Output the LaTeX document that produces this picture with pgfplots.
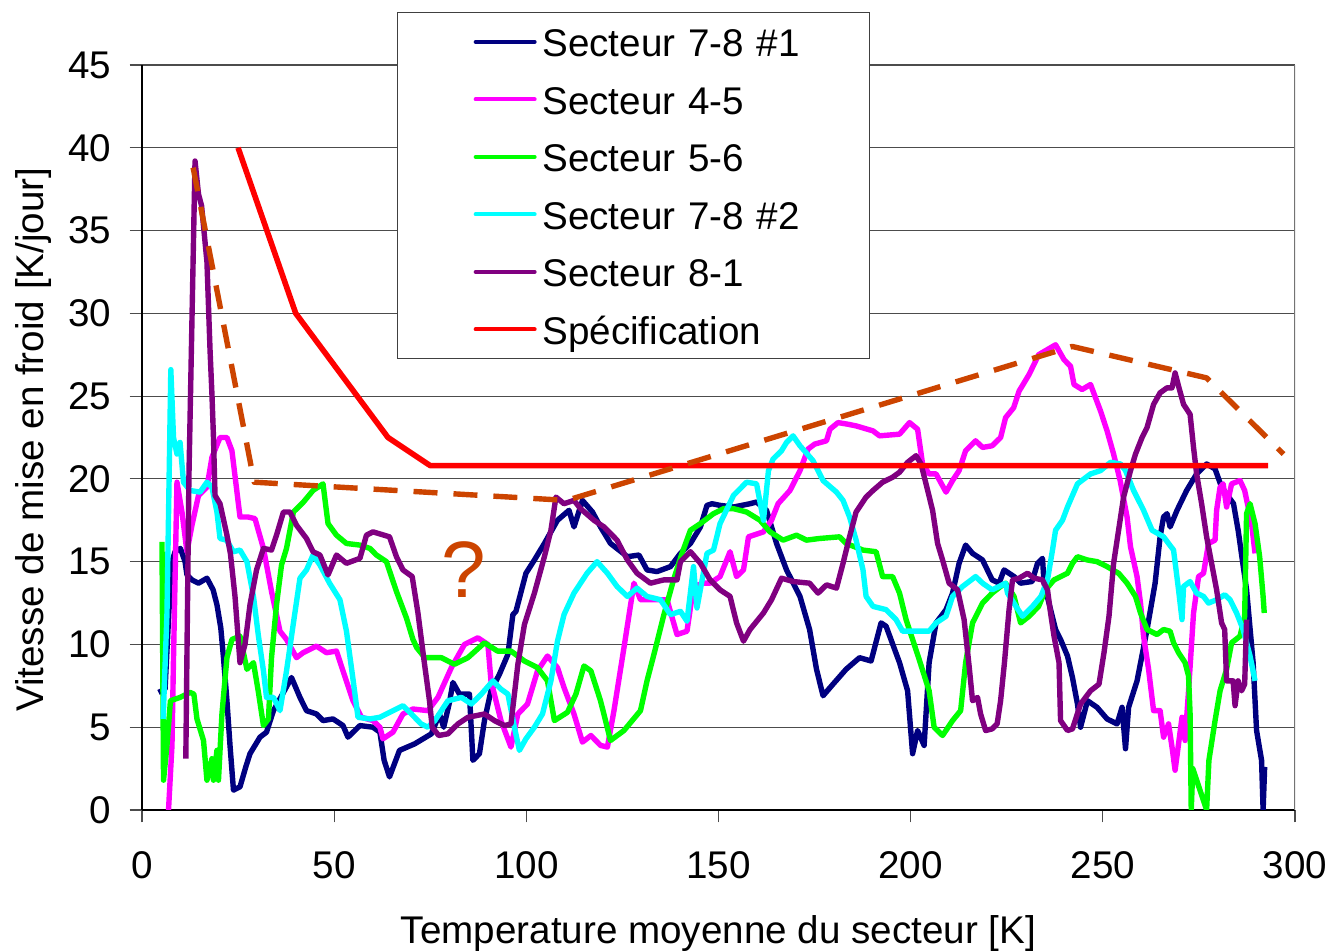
\documentclass[border=0pt]{standalone}
\usepackage{fontspec}
\setmainfont{Liberation Sans}
\usepackage{pgfplots}
\pgfplotsset{compat=1.18}

\definecolor{s78a}{RGB}{0,0,128}
\definecolor{s45}{RGB}{255,0,255}
\definecolor{s56}{RGB}{0,255,0}
\definecolor{s78b}{RGB}{0,255,255}
\definecolor{s81}{RGB}{128,0,128}
\definecolor{spec}{RGB}{255,0,0}
\definecolor{envel}{RGB}{204,68,0}

\newcommand\chartfont{\fontsize{19.3}{23.2}\selectfont}
\tikzset{legtext/.style={inner sep=0pt, text height=19pt, text depth=4.3pt, text width=160.5pt}}

\begin{document}
\begin{tikzpicture}
% page frame around the plot area (plot area lower-left corner at the origin)
\path[use as bounding box] (-71pt,-70.5pt) rectangle (595pt,405pt);
\begin{axis}[
  at={(0pt,0pt)}, anchor=south west,
  scale only axis, width=576.5pt, height=372.5pt,
  xmin=0, xmax=300, ymin=0, ymax=45,
  xtick={0,50,...,300}, ytick={0,5,...,45},
  axis x line*=bottom, axis y line*=left,
  axis line style={black, line width=0.7pt, -},
  tick align=outside, major tick length=6.2pt,
  tick style={black!70, line width=0.6pt},
  ymajorgrids, major grid style={black!70, line width=0.6pt},
  /pgf/number format/assume math mode=true,
  ticklabel style={font=\chartfont, inner sep=0pt},
  yticklabel style={anchor=east, xshift=-9pt},
  xticklabel style={anchor=north, yshift=-14.5pt},
  label style={font=\chartfont},
  xlabel={Temperature moyenne du secteur [K]},
  ylabel={Vitesse de mise en froid [K/jour]},
  xlabel style={at={(axis description cs:0.5,0)}, anchor=base, yshift=-66.7pt},
  ylabel style={at={(axis description cs:-0.085,0.497)}, anchor=base},
  legend cell align=left,
  legend style={
    at={(rel axis cs:0.2212,1.0711)}, anchor=north west,
    draw=black!75, line width=0.6pt, fill=white,
    inner xsep=3pt, inner ysep=3pt,
    font=\chartfont, row sep=5.45pt, column sep=2.85pt,
  },
  legend image code/.code={
    \path[draw=none, fill=none] (-36pt,0pt) -- (0pt,0pt);
    \draw[#1, line width=2pt, line cap=round] (0pt,0pt) -- (29.5pt,0pt);
  },
  every axis plot/.append style={line width=2.7pt, line join=round},
]

% Secteur 7-8 #1
\addplot[s78a] coordinates {
(4.3,7.1)(6.0,7.3)(7.0,12.0)(7.8,15.0)(8.6,15.6)(10.0,15.8)(11.2,15.0)(11.7,14.2)(13.0,13.9)
(14.7,13.7)(16.9,14.0)(18.5,13.3)(19.5,12.4)(20.5,11.0)(21.2,9.2)(22.1,6.6)(22.9,3.9)(23.8,1.2)
(25.5,1.4)(27.0,2.6)(28.1,3.4)(30.7,4.4)(32.4,4.7)(34.2,6.0)(36.8,7.1)(38.9,8.0)(41.1,6.8)
(42.8,6.0)(45.4,5.8)(47.1,5.4)(49.7,5.5)(52.3,5.1)(53.6,4.4)(56.7,5.1)(60.1,5.0)(61.9,4.7)
(63.0,3.0)(64.4,2.0)(67.0,3.6)(71,4.0)(75.3,4.6)(77.4,5.8)(78.5,5.0)(80.0,6.5)(80.9,7.7)
(82.6,7.0)(85.2,7.0)(86.1,3.0)(87.8,3.4)(89.1,5.4)(90.8,7.2)(93.0,8.2)(95.2,9.4)(96.5,11.8)
(97.3,12.0)(99.9,14.3)(102.1,15.1)(104.7,16.1)(108.1,17.5)(111.1,18.1)(112.4,17.1)(114.6,18.7)
(117.2,18.0)(119.3,17.1)(121.9,16.1)(126.3,15.3)(129.3,15.4)(131.4,14.5)(134.0,14.4)(137.5,14.7)
(140.1,15.5)(142.7,16.1)(145.3,17.1)(147.0,18.4)(148.3,18.5)(150.4,18.4)(153.9,18.3)(158.2,18.5)
(159.9,18.6)(162.5,18.1)(165.1,16.1)(167.7,14.5)(171.2,12.9)(173.7,10.9)(175.5,8.5)(177.2,6.9)
(179.8,7.6)(183.2,8.5)(186.7,9.2)(189.7,9.0)(192.3,11.3)(193.6,11.1)(197.1,8.9)(199.2,7.2)
(200.5,3.4)(201.8,4.8)(203.5,3.9)(204.8,8.9)(206.6,11.3)(209.2,12.1)(210.9,13.1)(212.6,14.9)
(214.3,16.0)(216.1,15.5)(218.7,15.1)(221.2,13.9)(223.0,13.7)(224.3,14.5)(226.9,14.1)(228.6,13.7)
(231.6,13.8)(233.0,14.9)(234.3,15.2)(234.7,13.7)(236.4,12.1)(237.7,10.9)(239.0,10.3)(240.8,9.3)
(242.1,8.0)(243.4,6.4)(244.2,5.0)(246.0,6.6)(248.5,6.2)(251.1,5.5)(253.7,5.2)(255.0,6.2)
(255.9,3.7)(256.7,6.2)(258.9,7.8)(261.5,10.9)(263.6,13.7)(264.9,16.5)(265.8,17.7)(266.7,17.9)
(267.5,17.1)(269.3,18.1)(271.8,19.3)(274.4,20.3)(277.0,20.9)(279.2,20.6)(280.9,19.5)(284.0,18.5)
(285.2,16.9)(287.4,13.3)(289.1,8.9)(290.0,4.8)(291.3,3.0)(291.7,0)(292.1,2.6)
};
\addlegendentry[legtext]{Secteur 7-8 \#1}

% Secteur 4-5
\addplot[s45] coordinates {
(6.9,0)(7.8,3.9)(8.2,9.2)(9.1,19.8)(10.4,18.0)(11.7,15.6)(13.0,17.2)(14.7,19.0)(16.9,19.5)
(18.2,21.3)(20.3,22.5)(22.1,22.5)(23.4,21.7)(25.5,17.7)(27.5,17.7)(29.4,17.6)(31.6,15.8)
(33.7,13.2)(35.9,10.8)(37.6,10.3)(40.2,9.2)(41.9,9.5)(45.4,9.9)(48.0,9.5)(50.6,9.6)(52.3,8.4)
(54.9,6.6)(57.1,5.6)(60.1,5.4)(61.9,5.0)(62.7,4.3)(65.3,4.7)(67.9,5.8)(70.5,6.1)(74.4,6.0)
(77.0,6.8)(80.5,8.6)(83.9,10.0)(87.4,10.4)(90.0,10.0)(90.8,7.8)(93.4,5.4)(96.0,3.8)(97.8,5.8)
(100.3,6.4)(102.9,8.4)(105.5,9.3)(108.1,8.6)(109.8,7.4)(112.4,5.8)(114.6,4.1)(116.8,4.5)
(119.3,3.9)(121.1,3.8)(122.8,6.0)(125.4,9.8)(128.0,13.7)(129.7,12.7)(133.2,12.7)(136.6,12.7)
(139.2,10.6)(141.8,10.8)(143.5,13.5)(146.1,13.7)(147.8,13.7)(150.4,14.1)(153.0,15.6)(154.7,14.1)
(156.5,14.5)(157.8,16.5)(161.7,16.8)(163.8,17.5)(165.5,18.5)(168.6,19.3)(171.2,20.5)(173.3,21.8)
(175.0,22.1)(178.1,22.3)(179.0,23.0)(181.1,23.4)(183.7,23.3)(185.8,23.2)(190.2,22.9)(191.9,22.6)
(197.1,22.7)(199.7,23.4)(201.8,23.0)(203.1,20.9)(204.8,20.3)(206.6,20.3)(209.2,19.2)(210.9,19.9)
(212.6,20.5)(214.3,21.7)(216.9,22.3)(218.7,21.9)(221.2,22.0)(223.4,22.5)(224.7,23.7)(226.8,24.3)
(228.2,25.3)(230.8,26.3)(233.3,27.5)(235.5,27.8)(237.7,28.1)(239.9,27.2)(241.6,26.8)(242.5,25.7)
(244.6,25.4)(246.8,25.7)(249.4,24.1)(251.1,22.9)(252.8,21.5)(254.5,19.9)(256.3,17.7)(257.2,15.9)
(258.9,14.1)(259.8,12.5)(260.6,10.5)(261.9,8.5)(263.2,6.0)(264.9,6.0)(265.8,4.4)(267.1,5.2)
(268.0,3.8)(268.8,2.4)(269.7,4.0)(270.6,5.6)(271.4,4.2)(272.3,7.2)(273.6,11.9)(274.9,14.1)
(276.2,14.3)(277.5,16.1)(279.2,16.3)(279.6,18.1)(280.5,19.5)(281.3,19.7)(282.2,18.3)(283.5,19.7)
(285.7,19.9)(286.9,19.3)(287.8,18.3)(288.7,17.3)(289.6,15.5)
};
\addlegendentry[legtext]{Secteur 4-5}

% Secteur 5-6
\addplot[s56] coordinates {
(5.2,16.2)(5.6,1.8)(6.5,3.9)(7.4,6.6)(9.9,6.8)(12.5,7.1)(13.5,7.0)(14.3,5.5)(16.0,4.2)(16.9,1.8)
(18.2,3.1)(18.6,1.8)(19.5,3.6)(19.9,1.8)(20.8,5.8)(22.1,9.2)(23.4,10.3)(25.5,10.5)(27.3,8.5)
(29.0,8.9)(30.3,7.1)(31.6,5.1)(32.9,5.5)(33.7,9.2)(35.0,12.4)(36.3,14.8)(37.6,15.8)(39.4,18.0)
(42.0,18.6)(44.5,19.3)(47.1,19.7)(48.4,17.3)(50.6,16.6)(53.2,16.1)(56.7,16.0)(59.3,15.8)
(61.0,15.4)(63.6,15.0)(66.2,13.2)(68.8,11.6)(70.5,10.3)(71.5,9.8)(73.6,9.2)(77.9,9.2)(81.3,8.8)
(84.8,9.2)(89.1,10.1)(92.5,9.6)(96.0,9.6)(99.5,9.0)(102.9,8.6)(105.5,7.8)(107.3,5.4)(110.7,5.9)
(112.9,7.0)(115.0,8.7)(116.8,8.4)(119.3,6.6)(121.9,4.2)(125.4,4.8)(129.7,6.0)(131.4,7.8)
(133.2,9.4)(135.8,11.8)(138.3,13.9)(140.5,15.5)(142.7,16.9)(145.3,17.3)(148.7,17.9)(151.3,18.2)
(153.9,18.2)(157.3,18.0)(160.8,17.5)(163.4,16.8)(166.8,16.3)(170.3,16.6)(172.9,16.3)(176.3,16.4)
(181.5,16.5)(183.2,16.1)(187.6,15.7)(191.0,15.6)(192.7,14.1)(195.3,14.1)(197.1,13.1)(198.8,11.5)
(200.5,10.3)(202.2,9.1)(204.8,7.2)(206.1,5.0)(208.3,4.5)(210.9,5.4)(213.0,6.0)(214.3,8.9)
(216.1,11.3)(218.7,12.5)(221.2,13.1)(223.4,13.5)(224.7,13.7)(226.9,12.9)(228.6,11.3)(230.8,11.7)
(233.3,12.3)(235.1,13.3)(237.3,13.9)(240.8,14.3)(242.1,14.9)(243.4,15.3)(246.0,15.1)(248.5,15.0)
(251.1,14.7)(254.1,14.3)(256.3,13.7)(258.5,12.9)(259.8,11.9)(261.5,10.9)(264.1,10.6)(265.8,10.9)
(267.5,10.8)(268.4,10.1)(269.7,9.5)(271.4,8.9)(272.3,8.1)(272.7,5.8)(273.0,0)(273.4,2.5)
(277.0,0)(277.6,3.0)(279.2,5.4)(280.5,7.2)(282.2,8.5)(283.5,10.1)(285.7,10.5)(286.9,11.7)
(287.4,17.9)(288.3,18.5)(289.6,17.3)(290.8,15.3)(291.7,12.9)(292.0,11.9)
};
\addlegendentry[legtext]{Secteur 5-6}

% Secteur 7-8 #2
\addplot[s78b] coordinates {
(5.5,5.5)(6.5,11.9)(7.5,26.6)(8.2,22.5)(9.1,21.5)(9.9,22.2)(10.8,19.8)(12.5,19.3)(15.1,19.2)
(16.9,19.8)(18.2,19.5)(19.5,18.0)(20.3,16.4)(22.0,16.3)(23.8,15.6)(25.5,15.7)(27.3,15.0)
(29.0,12.9)(30.3,10.5)(31.6,8.4)(32.4,6.8)(34.2,6.8)(35.9,6.0)(37.6,8.4)(39.4,11.3)(41.1,14.0)
(42.8,14.5)(44.5,15.4)(46.3,14.8)(48.8,13.7)(51.5,12.7)(53.2,10.8)(54.9,7.9)(56.2,5.6)(59.3,5.5)
(61.9,5.6)(65.3,6.0)(67.9,6.3)(70.1,5.8)(72.6,5.2)(74.4,5.0)(76.2,5.4)(79.6,6.6)(83.1,6.8)
(85.7,6.4)(88.3,7.0)(91.3,7.8)(93.4,7.3)(95.2,7.0)(96.9,5.0)(98.2,3.6)(99.9,4.3)(102.1,5.0)
(104.2,5.8)(106.4,7.8)(108.1,10.2)(109.8,11.8)(112.4,13.1)(115.8,14.3)(118.4,15.0)(121.1,14.3)
(123.6,13.5)(126.3,12.9)(128.8,13.4)(131.4,12.9)(134.9,12.7)(137.5,11.8)(140.1,12.0)(141.8,11.4)
(143.5,14.7)(144.4,12.2)(147.0,15.5)(148.7,15.7)(150.4,17.3)(153.9,19.0)(157.3,19.8)(159.9,19.7)
(161.7,17.5)(163.0,20.5)(164.2,21.2)(166.4,21.7)(167.7,22.2)(169.4,22.6)(171.2,22.0)(174.6,21.1)
(177.2,19.9)(180.7,19.2)(182.4,18.7)(184.1,17.7)(185.8,16.3)(187.6,14.5)(188.4,12.9)(190.2,12.3)
(193.6,12.1)(196.2,11.5)(197.9,10.8)(201.4,10.8)(204.8,10.8)(206.6,11.3)(209.2,11.7)(210.9,12.9)
(213.5,13.5)(216.9,14.1)(218.7,13.7)(221.2,13.3)(223.0,13.5)(224.7,13.7)(225.2,13.1)(227.4,12.3)
(229.1,11.7)(231.7,12.3)(233.9,12.9)(235.6,13.9)(236.9,15.7)(237.7,16.9)(239.5,17.5)(240.8,18.3)
(243.4,19.7)(246.8,20.3)(249.4,20.5)(252.0,21.0)(254.6,20.9)(255.9,20.5)(258.0,19.3)(260.6,18.1)
(262.8,16.9)(265.8,16.5)(268.4,15.7)(269.7,13.3)(270.6,11.5)(271.0,13.5)(272.7,13.8)(274.4,13.1)
(276.2,12.9)(277.5,12.5)(279.6,12.7)(281.7,13.0)(283.1,12.7)(284.8,11.9)(286.5,10.9)(288.3,9.3)
(289.6,7.8)
};
\addlegendentry[legtext]{Secteur 7-8 \#2}

% Secteur 8-1
\addplot[s81] coordinates {
(11.4,3.1)(12.2,20)(13.8,39.2)(14.7,37.2)(15.5,36.5)(16.9,33.1)(17.7,27.8)(18.2,25.1)(18.6,22.5)
(19.0,19.0)(20.3,18.5)(22.1,16.6)(23.0,15.5)(24.2,12.9)(25.5,8.9)(26.8,10.0)(28.1,12.4)(29.8,14.5)
(31.6,15.8)(33.7,15.7)(35.0,16.6)(36.8,18.0)(38.5,18.0)(40.2,17.2)(42.8,16.4)(44.5,15.6)(46.3,15.4)
(48.4,14.2)(50.6,15.4)(53.2,14.9)(56.7,15.2)(58.4,16.6)(60.1,16.8)(64.4,16.5)(66.2,15.3)(67.9,14.5)
(70.3,14.1)(71.8,11.9)(73.4,9.0)(74.8,6.6)(75.5,5.0)(77.2,4.5)(79.6,4.6)(82.2,5.2)(84.8,5.6)
(89.1,5.8)(91.7,5.4)(94.3,5.1)(96.0,5.2)(97.8,8.8)(99.5,11.2)(102.1,13.1)(104.7,15.3)(106.4,16.9)
(107.7,18.9)(109.8,18.5)(112.4,18.7)(114.1,18.2)(117.6,17.5)(120.2,17.1)(123.6,16.3)(126.3,15.1)
(128.8,14.3)(132.3,13.7)(135.8,13.9)(139.2,13.9)(140.1,15.0)(142.7,15.6)(145.3,14.9)(147.8,13.9)
(150.4,13.3)(153.0,12.9)(154.7,11.3)(156.5,10.2)(158.2,10.9)(161.7,11.9)(163.8,12.7)(166.4,14.0)
(169.4,13.8)(173.7,13.7)(175.9,13.1)(178.1,13.6)(180.7,13.4)(182.4,14.9)(184.1,16.5)(185.8,18.0)
(188.4,18.9)(190.2,19.3)(192.7,19.8)(195.3,20.1)(197.1,20.4)(199.2,21.0)(201.4,21.4)(202.7,20.9)
(204.0,19.7)(205.7,18.1)(207.0,16.1)(208.3,15.1)(210.0,13.7)(212.2,13.3)(213.9,11.5)(215.2,8.7)
(216.1,6.6)(217.4,6.8)(218.2,5.8)(219.5,4.8)(221.2,4.9)(222.5,5.2)(223.4,6.6)(224.4,8.9)
(225.6,12.1)(226.5,13.9)(228.2,14.0)(230.4,14.3)(232.1,14.0)(234.3,13.9)(235.6,13.3)(236.4,11.9)
(237.3,10.5)(238.6,8.9)(239.0,5.4)(240.8,4.8)(242.1,4.9)(244.2,6.4)(246.8,7.2)(249.0,7.6)
(250.3,9.5)(251.6,11.7)(252.8,14.9)(254.1,16.9)(255.4,18.9)(257.2,20.5)(258.5,21.5)(260.2,22.5)
(261.5,23.1)(263.2,24.5)(264.9,25.2)(266.7,25.5)(268.0,25.5)(268.8,26.4)(269.7,25.6)(271.0,24.5)
(272.7,23.9)(273.6,21.9)(274.4,20.3)(275.7,18.5)(277.0,16.5)(278.3,14.9)(279.6,13.3)(280.9,11.3)
(281.7,10.9)(282.2,7.8)(283.9,7.8)(284.4,6.3)(285.2,7.8)(286.1,7.2)(286.9,7.6)(287.4,11.5)
};
\addlegendentry[legtext]{Secteur 8-1}

% Specification
\addplot[spec, line width=2.8pt] coordinates {
(25,40)(40,30)(64,22.5)(75,20.8)(293,20.8)
};
\addlegendentry[legtext]{Spécification}

% envelope of the measured rates
\addplot[envel, line width=2.7pt, dash pattern=on 12pt off 8pt, forget plot] coordinates {
(13.3,38.8)(29.2,19.8)(110.5,18.7)(242,28)(277,26.1)(297,21.5)
};

\node[text=envel, font=\fontsize{40}{48}\selectfont] at (axis cs:83.7,14.5) {?};

\draw[black!55, line width=0.6pt] (rel axis cs:1,0) -- (rel axis cs:1,1);
\end{axis}
\end{tikzpicture}
\end{document}
